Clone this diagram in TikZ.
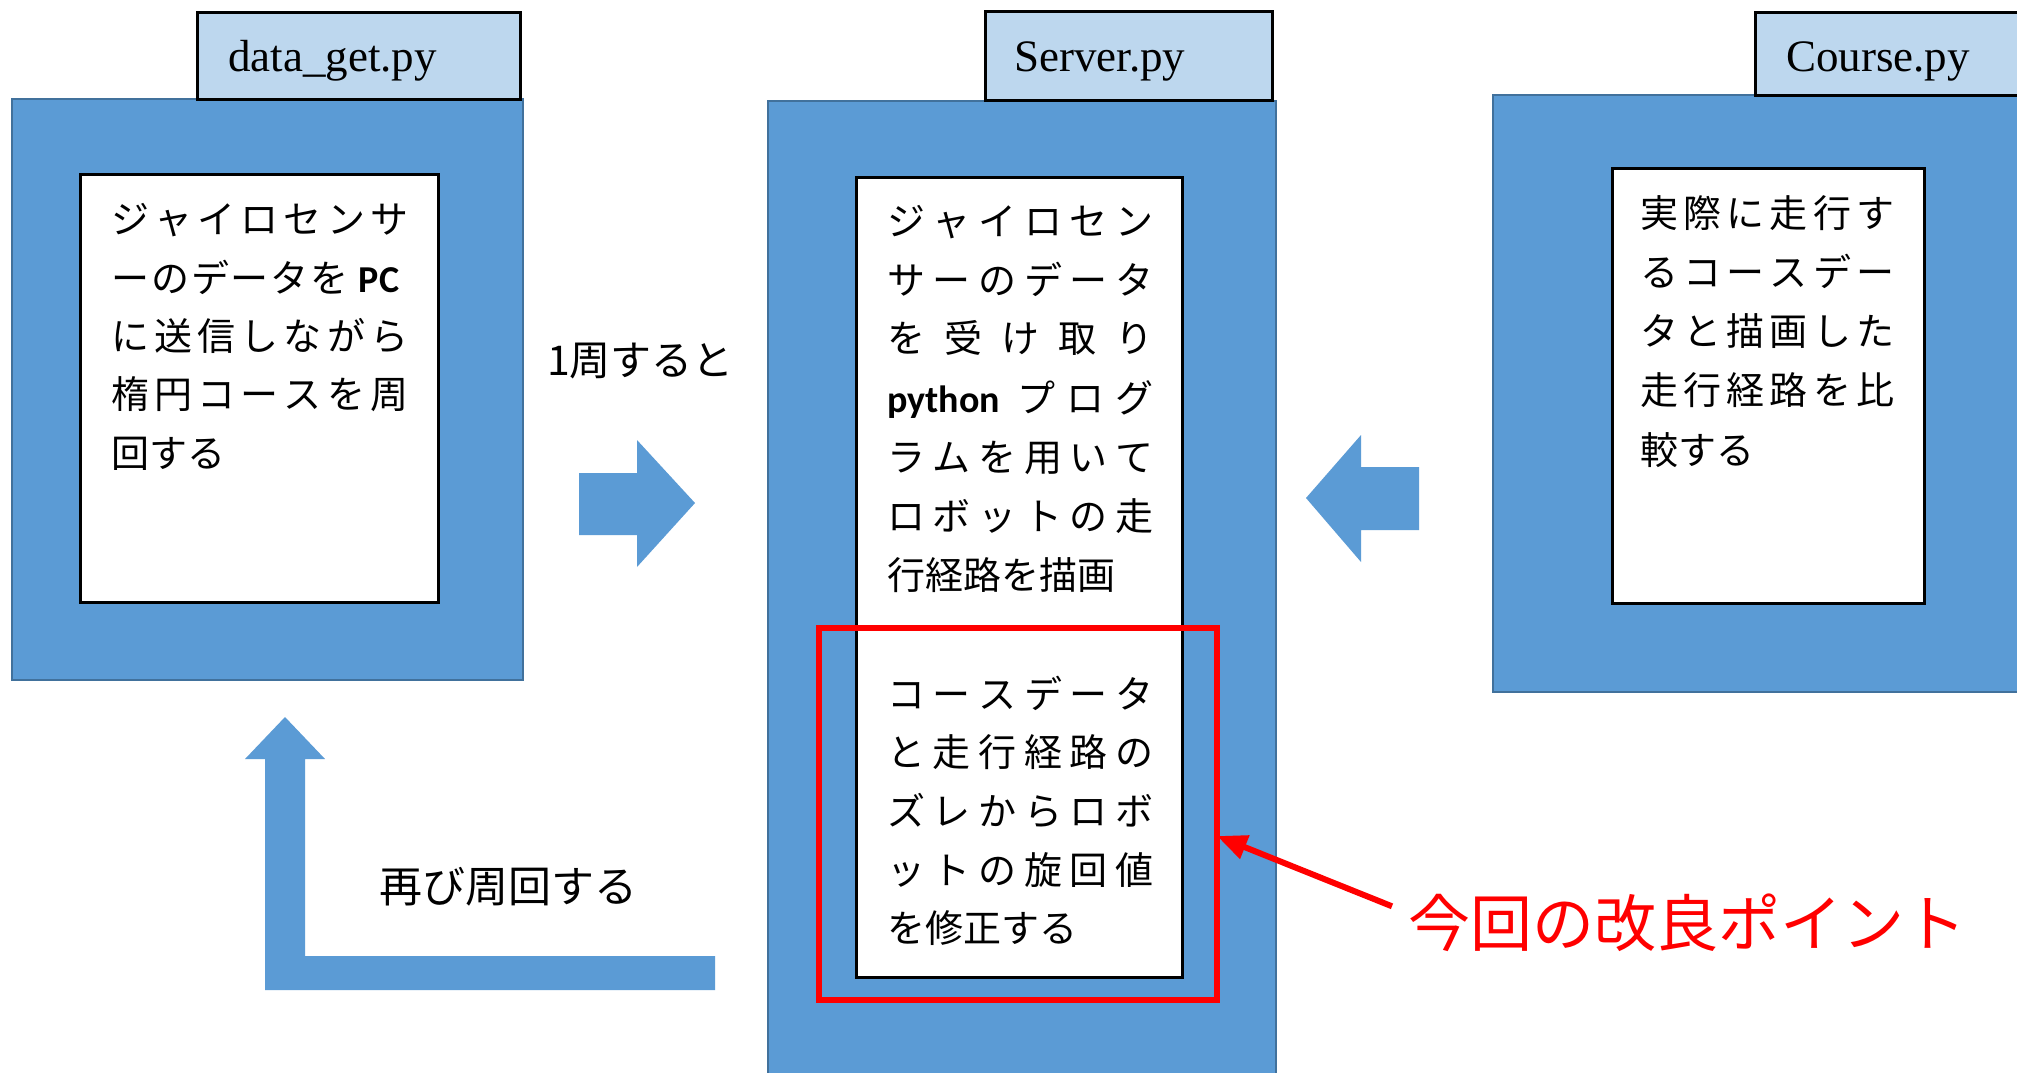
\documentclass[tikz,border=0pt]{standalone}
\usepackage{fontspec}
\setmainfont{Liberation Serif}
\newfontfamily\jpfont{Noto Sans CJK JP}
\newfontfamily\calfont{Carlito}
\usetikzlibrary{arrows.meta}
\definecolor{bluefill}{HTML}{5B9BD5}
\definecolor{blueedge}{HTML}{41719C}
\definecolor{tabfill}{HTML}{BDD7EE}
\definecolor{myred}{HTML}{FF0000}
\newcommand{\pcb}[1]{{\calfont\bfseries #1}}
\begin{document}
\begin{tikzpicture}[x=1pt,y=-1pt,
  bluebox/.style={draw=blueedge, fill=bluefill, line width=1.5pt, inner sep=0pt, anchor=north west},
  tabbox/.style={draw=black, fill=tabfill, line width=2.5pt, inner sep=0pt, anchor=north west},
  whitebox/.style={draw=black, fill=white, line width=2.5pt, inner sep=0pt, anchor=north west},
  tabtext/.style={anchor=base west, inner sep=0pt, font=\fontsize{45}{45}\selectfont},
  boxtext/.style={anchor=base west, inner sep=0pt, font=\jpfont\fontsize{38}{38}\selectfont},
  labeltext/.style={anchor=base west, inner sep=0pt, font=\jpfont\fontsize{41}{41}\selectfont},
  blockarrow/.style={fill=bluefill, draw=none},
  redbox/.style={draw=myred, line width=6pt, inner sep=0pt, outer sep=0pt, anchor=north west},
  redarrow/.style={draw=myred, line width=6pt, -{Triangle[length=30pt,width=24pt]}}
]
\useasboundingbox (0,0) rectangle (2017,1072);
\fill[white] (0,0) rectangle (2017,1072);

% --- blue outer boxes ---
\node[bluebox, minimum width=511pt, minimum height=581pt] (b1) at (11,98) {};
\node[bluebox, minimum width=508pt, minimum height=990pt] (b2) at (767,100) {};
\node[bluebox, minimum width=540pt, minimum height=597pt] (b3) at (1492,94) {};

% --- tabs ---
\node[tabbox, minimum width=323pt, minimum height=87pt] (tab1) at (196,11) {};
\node[tabbox, minimum width=287pt, minimum height=89pt] (tab2) at (984,10) {};
\node[tabbox, minimum width=280pt, minimum height=83pt] (tab3) at (1754,11) {};
\node[tabtext] (tl1) at (228,71) {data\_get.py};
\node[tabtext] (tl2) at (1014,71) {Server.py};
\node[tabtext] (tl3) at (1786,71) {Course.py};

% --- white inner boxes ---
\node[whitebox, minimum width=358pt, minimum height=428pt] (w1) at (79,173) {};
\node[whitebox, minimum width=326pt, minimum height=800pt] (w2) at (855,176) {};
\node[whitebox, minimum width=312pt, minimum height=435pt] (w3) at (1611,167) {};

% --- text box 1 ---
\node[boxtext] (a1) at (111,233) {\makebox[297pt][s]{ジ\hfill ャ\hfill イ\hfill ロ\hfill セ\hfill ン\hfill サ}};
\node[boxtext] (a2) at (111,292) {\makebox[288pt][s]{ー\hfill の\hfill デ\hfill ー\hfill タ\hfill を\hspace{10pt}\pcb{PC}}};
\node[boxtext] (a3) at (111,350) {\makebox[297pt][s]{に\hfill 送\hfill 信\hfill し\hfill な\hfill が\hfill ら}};
\node[boxtext] (a4) at (111,408) {\makebox[297pt][s]{楕\hfill 円\hfill コ\hfill ー\hfill ス\hfill を\hfill 周}};
\node[boxtext] (a5) at (111,467) {回する};

% --- text box 2 ---
\node[boxtext] (s1) at (887,235) {\makebox[266pt][s]{ジ\hfill ャ\hfill イ\hfill ロ\hfill セ\hfill ン}};
\node[boxtext] (s2) at (887,294) {\makebox[266pt][s]{サ\hfill ー\hfill の\hfill デ\hfill ー\hfill タ}};
\node[boxtext] (s3) at (887,352) {\makebox[266pt][s]{を\hfill 受\hfill け\hfill 取\hfill り}};
\node[boxtext] (s4) at (887,412) {\makebox[266pt][s]{\pcb{python}\hspace{18pt}プ\hfill ロ\hfill グ}};
\node[boxtext] (s5) at (887,471) {\makebox[266pt][s]{ラ\hfill ム\hfill を\hfill 用\hfill い\hfill て}};
\node[boxtext] (s6) at (887,530) {\makebox[266pt][s]{ロ\hfill ボ\hfill ッ\hfill ト\hfill の\hfill 走}};
\node[boxtext] (s7) at (887,589) {行経路を描画};
\node[boxtext] (s8) at (887,708) {\makebox[266pt][s]{コ\hfill ー\hfill ス\hfill デ\hfill ー\hfill タ}};
\node[boxtext] (s9) at (887,766) {\makebox[266pt][s]{と\hfill 走\hfill 行\hfill 経\hfill 路\hfill の}};
\node[boxtext] (s10) at (887,825) {\makebox[266pt][s]{ズ\hfill レ\hfill か\hfill ら\hfill ロ\hfill ボ}};
\node[boxtext] (s11) at (887,884) {\makebox[266pt][s]{ッ\hfill ト\hfill の\hfill 旋\hfill 回\hfill 値}};
\node[boxtext] (s12) at (887,942) {を修正する};

% --- text box 3 ---
\node[boxtext] (c1) at (1640,227) {\makebox[254pt][s]{実\hfill 際\hfill に\hfill 走\hfill 行\hfill す}};
\node[boxtext] (c2) at (1640,286) {\makebox[254pt][s]{る\hfill コ\hfill ー\hfill ス\hfill デ\hfill ー}};
\node[boxtext] (c3) at (1640,345) {\makebox[254pt][s]{タ\hfill と\hfill 描\hfill 画\hfill し\hfill た}};
\node[boxtext] (c4) at (1640,404) {\makebox[254pt][s]{走\hfill 行\hfill 経\hfill 路\hfill を\hfill 比}};
\node[boxtext] (c5) at (1640,464) {較する};

% --- block arrows ---
\fill[blockarrow] (579,473) -- (637,473) -- (637,440) -- (695,503) -- (637,567) -- (637,535) -- (579,535) -- cycle;
\fill[blockarrow] (1419,467) -- (1361,467) -- (1361,435) -- (1306,498) -- (1361,562) -- (1361,530) -- (1419,530) -- cycle;
\fill[blockarrow] (715,956) -- (305,956) -- (305,759) -- (325,759) -- (285,717) -- (245,759) -- (265,759) -- (265,990) -- (715,990) -- cycle;

% --- labels ---
\node[labeltext] (lap) at (547,375) {1周すると};
\node[labeltext, font=\jpfont\fontsize{43}{43}\selectfont] (again) at (379,902) {再び周回する};

% --- red highlight ---
\node[redbox, minimum width=398pt, minimum height=372pt] (rb) at (819,628) {};
\node[anchor=base west, inner sep=0pt, text=myred, font=\jpfont\fontsize{62}{62}\selectfont] (pt) at (1408,946) {今回の改良ポイント};
\draw[redarrow] ([xshift=-16pt,yshift=16pt]pt.west) -- ([yshift=-22pt]rb.east);
\end{tikzpicture}
\end{document}
